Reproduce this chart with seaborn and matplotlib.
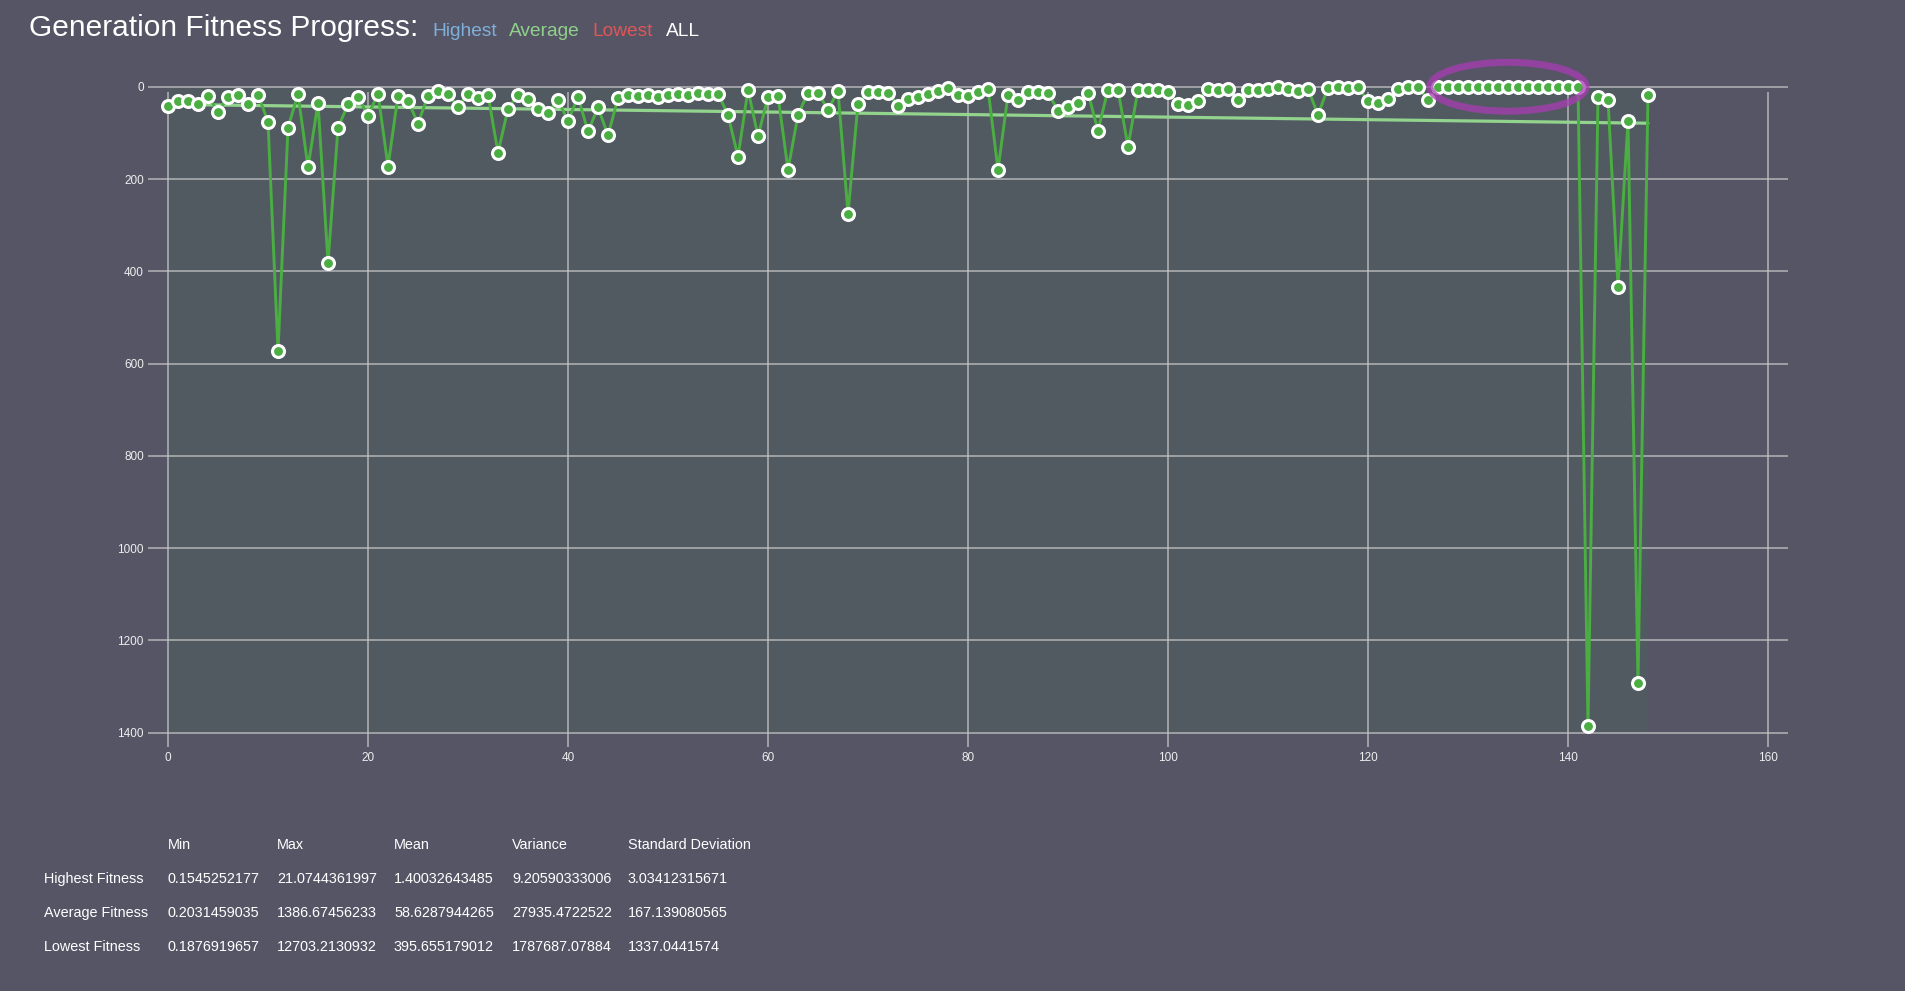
import matplotlib
matplotlib.use('Agg')
import matplotlib.pyplot as plt
from matplotlib.patches import Ellipse
import seaborn as sns
import numpy as np

# Average fitness per generation (inverted axis)
generations = np.arange(149)
avg_fitness = [
    41, 30, 30, 37, 19, 55, 22, 17, 37, 17,
    76, 573, 89, 15, 175, 35, 381, 89, 38, 22,
    63, 15, 173, 19, 30, 80, 19, 9, 15, 45,
    15, 24, 17, 143, 48, 17, 26, 48, 56, 29,
    74, 22, 97, 45, 105, 25, 17, 19, 17, 22,
    17, 15, 17, 13, 15, 15, 61, 152, 6.5, 107,
    22, 19, 180, 61, 13, 13, 50, 9, 275, 37,
    11, 11, 13, 41, 26, 22, 15, 9, 3.6, 17,
    19, 11, 4.3, 180, 17, 28, 11, 11, 13, 52,
    45, 35, 13, 95, 6.5, 6.5, 130, 6.5, 6.5, 6.5,
    11, 37, 39, 30, 4.3, 6.5, 4.3, 28, 6.5, 6.5,
    4.3, 0.5, 4.3, 9, 4.3, 61, 2, 0.5, 2, 0.5,
    32, 35, 26, 4.3, 0.5, 0.5, 28, 0.3, 0.3, 0.3,
    0.3, 0.3, 0.2031, 0.3, 0.3, 0.3, 0.3, 0.3, 0.3, 0.3,
    0.3, 0.3, 1386.67, 22, 29, 433, 74, 1292, 17,
]

x_ticks = [0, 20, 40, 60, 80, 100, 120, 140, 160]
y_ticks = [0, 200, 400, 600, 800, 1000, 1200, 1400]

# highlighted run of best generations
highlight_center = (134, 0)
highlight_size = (15.6, 106)

legend_words = ['Highest', 'Average', 'Lowest', 'ALL']
legend_colors = ['#7fb0d9', '#8fd18a', '#e05656', '#ffffff']

stat_cols = ['Min', 'Max', 'Mean', 'Variance', 'Standard Deviation']
stat_rows = ['Highest Fitness', 'Average Fitness', 'Lowest Fitness']
stat_highest = ['0.1545252177', '21.0744361997', '1.40032643485', '9.20590333006', '3.03412315671']
stat_average = ['0.2031459035', '1386.67456233', '58.6287944265', '27935.4722522', '167.139080565']
stat_lowest = ['0.1876919657', '12703.2130932', '395.655179012', '1787687.07884', '1337.0441574']

bg = '#565566'
grid_col = '#c4c4c4'
sns.set_theme(style='dark')
plt.rcParams['font.family'] = ['Liberation Sans', 'DejaVu Sans']

fig = plt.figure(figsize=(19.05, 9.91), dpi=100, facecolor=bg)
ax = fig.add_axes([148 / 1905, 1 - 747.4 / 991, 1640 / 1905, (747.4 - 81.2) / 991])
ax.set_facecolor(bg)

# shaded area behind the series
ax.fill_between(generations, y_ticks[0], y_ticks[-1], color='#525a61', lw=0, zorder=1)

# gridlines (drawn by hand so they sit on top of the shading)
ax.grid(False)
ax.hlines(y_ticks, -2, 162, color=grid_col, lw=1.1, alpha=0.85, zorder=1.5)
ax.vlines(x_ticks, 12, 1432, color=grid_col, lw=1.1, alpha=0.85, zorder=1.5)

# trend line
sns.regplot(x=generations, y=np.array(avg_fitness), scatter=False, ci=None, ax=ax,
            line_kws=dict(lw=2.3, zorder=2, color='#92d38d'))

sns.lineplot(x=generations, y=avg_fitness, ax=ax, color='#4aae43', lw=2.1,
             marker='o', markersize=8.6, markerfacecolor='#4aae43',
             markeredgecolor='white', markeredgewidth=2.2, zorder=3, clip_on=False)

ell = Ellipse(highlight_center, highlight_size[0], highlight_size[1], fill=False,
              edgecolor='#a83cb4', lw=5, alpha=0.75, zorder=5, clip_on=False)
ax.add_patch(ell)

ax.set_xlim(-2, 162)
ax.set_ylim(1432, -12)
ax.set_xticks(x_ticks)
ax.set_yticks(y_ticks)
ax.set_xlabel('')
ax.set_ylabel('')
ax.tick_params(length=0, colors='#eeeeee', labelsize=8.5)
ax.tick_params(axis='y', pad=3)
ax.tick_params(axis='x', pad=3)
for s in ax.spines.values():
    s.set_visible(False)

# title with coloured legend words
fig.text(29 / 1905, 1 - 36 / 991, 'Generation Fitness Progress:', color='white',
         fontsize=21.5, va='baseline', ha='left')
legend_x = [432, 509, 592, 666]
for word, col, lx in zip(legend_words, legend_colors, legend_x):
    fig.text(lx / 1905, 1 - 36 / 991, word, color=col, fontsize=13.8,
             va='baseline', ha='left')

# statistics table
col_x = [168, 277, 394, 512, 628]
row_y = [845, 879, 913, 947]
for name, cx in zip(stat_cols, col_x):
    fig.text(cx / 1905, 1 - row_y[0] / 991, name, color='white', fontsize=10.4, va='center')
for label, vals, ry in zip(stat_rows, [stat_highest, stat_average, stat_lowest], row_y[1:]):
    fig.text(44 / 1905, 1 - ry / 991, label, color='white', fontsize=10.4, va='center')
    for v, cx in zip(vals, col_x):
        fig.text(cx / 1905, 1 - ry / 991, v, color='white', fontsize=10.4, va='center')

fig.savefig('out.png', dpi=100, facecolor=bg)
